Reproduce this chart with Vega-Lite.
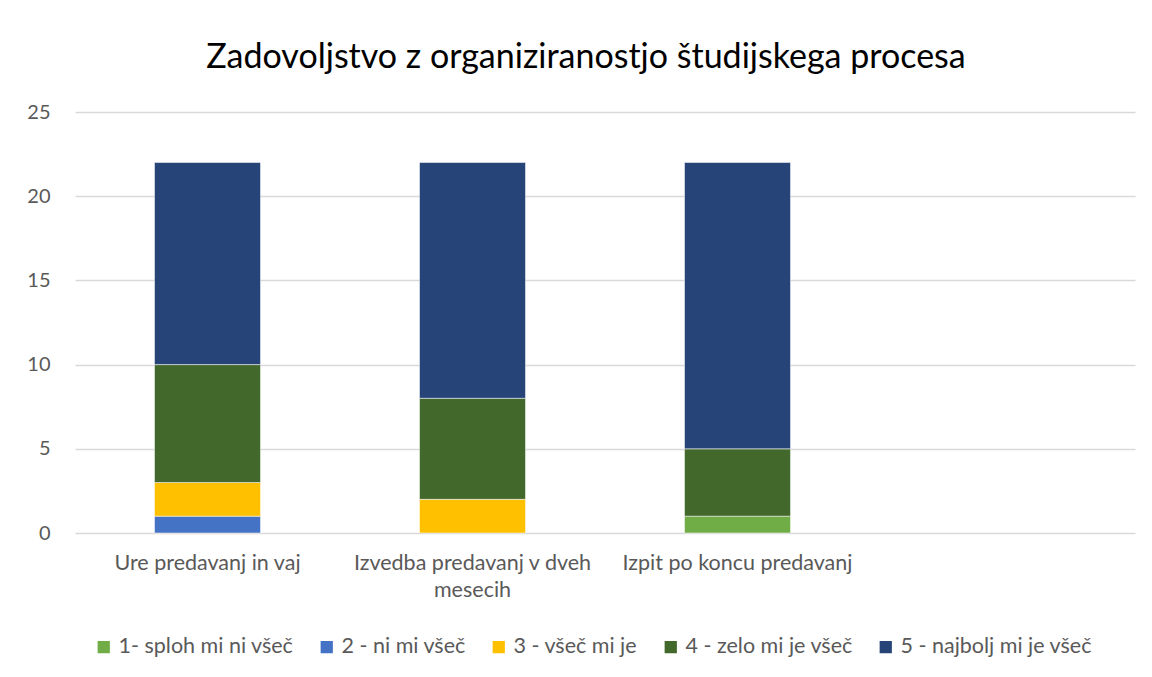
{
  "$schema": "https://vega.github.io/schema/vega-lite/v6.json",
  "width": 1060,
  "height": 421,
  "autosize": {"type": "none"},
  "padding": {"left": 75, "top": 112, "right": 17, "bottom": 144},
  "background": "white",
  "title": {
    "text": "Zadovoljstvo z organiziranostjo študijskega procesa",
    "font": "Lato",
    "fontSize": 34,
    "fontWeight": "normal",
    "color": "#000000",
    "anchor": "middle",
    "dx": -19,
    "offset": 27
  },
  "data": {
    "values": [
      {"kategorija": "Ure predavanj in vaj", "ocena": "2 - ni mi všeč", "red": 2, "stevilo": 1},
      {"kategorija": "Ure predavanj in vaj", "ocena": "3 - všeč mi je", "red": 3, "stevilo": 2},
      {"kategorija": "Ure predavanj in vaj", "ocena": "4 - zelo mi je všeč", "red": 4, "stevilo": 7},
      {"kategorija": "Ure predavanj in vaj", "ocena": "5 - najbolj mi je všeč", "red": 5, "stevilo": 12},
      {"kategorija": "Izvedba predavanj v dveh mesecih", "ocena": "3 - všeč mi je", "red": 3, "stevilo": 2},
      {"kategorija": "Izvedba predavanj v dveh mesecih", "ocena": "4 - zelo mi je všeč", "red": 4, "stevilo": 6},
      {"kategorija": "Izvedba predavanj v dveh mesecih", "ocena": "5 - najbolj mi je všeč", "red": 5, "stevilo": 14},
      {"kategorija": "Izpit po koncu predavanj", "ocena": "1- sploh mi ni všeč", "red": 1, "stevilo": 1},
      {"kategorija": "Izpit po koncu predavanj", "ocena": "4 - zelo mi je všeč", "red": 4, "stevilo": 4},
      {"kategorija": "Izpit po koncu predavanj", "ocena": "5 - najbolj mi je všeč", "red": 5, "stevilo": 17}
    ]
  },
  "mark": {"type": "bar", "stroke": "white", "strokeWidth": 0.5},
  "encoding": {
    "x": {
      "field": "kategorija",
      "type": "nominal",
      "scale": {
        "domain": ["Ure predavanj in vaj", "Izvedba predavanj v dveh mesecih", "Izpit po koncu predavanj", ""],
        "paddingInner": 0.6,
        "paddingOuter": 0.3
      },
      "axis": {
        "title": null,
        "labelAngle": 0,
        "domain": false,
        "ticks": false,
        "labelFont": "Lato",
        "labelFontSize": 21.5,
        "labelColor": "#595959",
        "labelPadding": 19,
        "labelLineHeight": 27,
        "labelLimit": 300,
        "labelExpr": "datum.value == 'Izvedba predavanj v dveh mesecih' ? ['Izvedba predavanj v dveh', 'mesecih'] : datum.value"
      }
    },
    "y": {
      "field": "stevilo",
      "type": "quantitative",
      "stack": "zero",
      "scale": {"domain": [0, 25], "nice": false},
      "axis": {
        "title": null,
        "values": [0, 5, 10, 15, 20, 25],
        "domain": false,
        "ticks": false,
        "grid": true,
        "gridColor": "#d9d9d9",
        "gridWidth": 1.3,
        "labelFont": "Lato",
        "labelFontSize": 20,
        "labelColor": "#595959",
        "labelPadding": 25
      }
    },
    "color": {
      "field": "ocena",
      "type": "nominal",
      "scale": {
        "domain": ["1- sploh mi ni všeč", "2 - ni mi všeč", "3 - všeč mi je", "4 - zelo mi je všeč", "5 - najbolj mi je všeč"],
        "range": ["#70AD47", "#4472C4", "#FFC000", "#43682B", "#264478"]
      },
      "legend": {
        "title": null,
        "orient": "none",
        "legendX": 18,
        "legendY": 524,
        "direction": "horizontal",
        "columns": 5,
        "symbolType": "square",
        "symbolSize": 150,
        "symbolStrokeWidth": 0,
        "labelFont": "Lato",
        "labelFontSize": 21.5,
        "labelColor": "#595959",
        "labelOffset": 4,
        "columnPadding": 22,
        "labelLimit": 400
      }
    },
    "order": {"field": "red", "type": "quantitative"}
  },
  "config": {
    "view": {"stroke": null}
  }
}
